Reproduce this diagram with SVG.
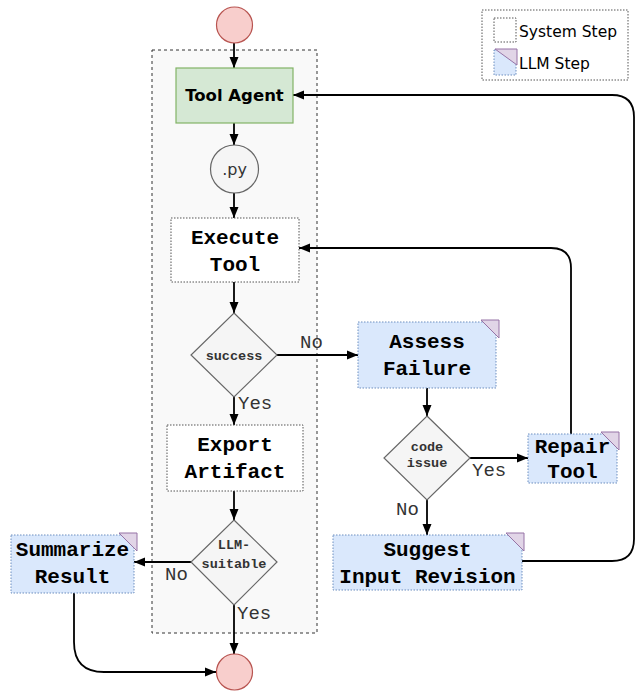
<svg xmlns="http://www.w3.org/2000/svg" width="635" height="692" viewBox="0 0 635 692">
<defs>
<marker id="ah" markerUnits="userSpaceOnUse" markerWidth="12" markerHeight="12" viewBox="0 0 12 12" refX="11" refY="6" orient="auto">
<path d="M0,1.5 L11,6 L0,10.5 Z" fill="#000"/>
</marker>
<style>
.sys{fill:#fff;stroke:#555;stroke-width:1;stroke-dasharray:1.5 1.5}
.llm{fill:#dae8fc;stroke:#6c8ebf;stroke-width:1;stroke-dasharray:1.5 1.5}
.tri{fill:#e1d5e7;stroke:#9673a6;stroke-width:1}
.dia{fill:#f5f5f5;stroke:#666;stroke-width:1.2}
.term{fill:#f8cecc;stroke:#b85450;stroke-width:1.2}
.big{font-family:"Liberation Mono",monospace;font-weight:bold;font-size:21px;fill:#000;text-anchor:middle}
.small{font-family:"Liberation Mono",monospace;font-weight:bold;font-size:13.5px;fill:#333;text-anchor:middle}
.lbl{font-family:"Liberation Mono",monospace;font-size:19px;fill:#333}
.edge{fill:none;stroke:#000;stroke-width:1.8;marker-end:url(#ah)}
.leg{font-family:"DejaVu Sans",sans-serif;font-size:15.5px;fill:#000}
</style>
</defs>
<rect width="635" height="692" fill="#fff"/>
<g id="container">
<rect x="152" y="50" width="165" height="583" fill="#f9f9f9" stroke="#333" stroke-width="1" stroke-dasharray="3 3"/>
</g>
<g id="legend">
<rect x="482" y="10" width="146" height="70" fill="#fff" stroke="#555" stroke-width="1" stroke-dasharray="1.5 1.5"/>
<rect x="494" y="18" width="22" height="24" class="sys"/>
<text x="519" y="37" class="leg">System Step</text>
<rect x="494" y="50" width="22" height="25" class="llm"/>
<path d="M495,49 L517,49 L517,65 Z" class="tri"/>
<text x="519" y="69" class="leg">LLM Step</text>
</g>
<g id="connectors">
<path class="edge" d="M234,43 L234,68"/>
<path class="edge" d="M234,123 L234,145"/>
<path class="edge" d="M234,193 L234,218"/>
<path class="edge" d="M234,282 L234,313"/>
<path class="edge" d="M277,355 L358,355"/>
<path class="edge" d="M234,397 L234,425"/>
<path class="edge" d="M234,491 L234,520"/>
<path class="edge" d="M191,562 L134,562"/>
<path class="edge" d="M234,605 L234,654"/>
<path class="edge" d="M74,593 L74,642 Q74,672 104,672 L216,672"/>
<path class="edge" d="M427,388 L427,416"/>
<path class="edge" d="M470,458 L528,458"/>
<path class="edge" d="M427,500 L427,535"/>
<path class="edge" d="M571,434 L571,268 Q571,248 551,248 L299,248"/>
<path class="edge" d="M522,561 L612,561 Q634,561 634,539 L634,117 Q634,95 612,95 L293,95"/>
<text x="300" y="348" class="lbl">No</text>
<text x="238" y="409" class="lbl">Yes</text>
<text x="472" y="476" class="lbl">Yes</text>
<text x="396" y="515" class="lbl">No</text>
<text x="165" y="580" class="lbl">No</text>
<text x="237" y="619" class="lbl">Yes</text>
</g>
<g id="start"><circle cx="234.5" cy="25" r="18" class="term"/></g>
<g id="tool-agent">
<rect x="176" y="68" width="117" height="55" fill="#d5e8d4" stroke="#82b366" stroke-width="1.2"/>
<text x="234.5" y="101" font-family="DejaVu Sans,sans-serif" font-weight="bold" font-size="16.5" text-anchor="middle">Tool Agent</text>
</g>
<g id="py">
<circle cx="234.5" cy="169" r="24" fill="#f5f5f5" stroke="#666" stroke-width="1.2"/>
<text x="234.5" y="175" font-family="DejaVu Sans,sans-serif" font-size="16" fill="#333" text-anchor="middle">.py</text>
</g>
<g id="execute-tool">
<rect x="171" y="218" width="128" height="64" class="sys"/>
<text x="235" y="244" class="big">Execute</text>
<text x="235" y="271" class="big">Tool</text>
</g>
<g id="success">
<path d="M234,313 L277,355 L234,397 L191,355 Z" class="dia"/>
<text x="234" y="360" class="small">success</text>
</g>
<g id="assess-failure">
<rect x="358" y="322" width="138" height="66" class="llm"/>
<path d="M481,320 L499,320 L499,338 Z" class="tri"/>
<text x="427" y="348" class="big">Assess</text>
<text x="427" y="375" class="big">Failure</text>
</g>
<g id="export-artifact">
<rect x="167" y="425" width="136" height="66" class="sys"/>
<text x="235" y="451" class="big">Export</text>
<text x="235" y="478" class="big">Artifact</text>
</g>
<g id="llm-suitable">
<path d="M234,520 L277,562 L234,605 L191,562 Z" class="dia"/>
<text x="234" y="549" class="small">LLM-</text>
<text x="234" y="568" class="small">suitable</text>
</g>
<g id="summarize-result">
<rect x="11" y="535" width="123" height="58" class="llm"/>
<path d="M119,533 L137,533 L137,551 Z" class="tri"/>
<text x="72.5" y="556" class="big">Summarize</text>
<text x="72.5" y="583" class="big">Result</text>
</g>
<g id="code-issue">
<path d="M427,416 L470,458 L427,500 L384,458 Z" class="dia"/>
<text x="427" y="451" class="small">code</text>
<text x="427" y="467" class="small">issue</text>
</g>
<g id="repair-tool">
<rect x="528" y="434" width="89" height="49" class="llm"/>
<path d="M601,432 L619,432 L619,450 Z" class="tri"/>
<text x="572.5" y="453" class="big">Repair</text>
<text x="572.5" y="478" class="big">Tool</text>
</g>
<g id="suggest-input-revision">
<rect x="333" y="535" width="189" height="55" class="llm"/>
<path d="M506,533 L524,533 L524,551 Z" class="tri"/>
<text x="427.5" y="556" class="big">Suggest</text>
<text x="427.5" y="583" class="big">Input Revision</text>
</g>
<g id="end"><circle cx="234.5" cy="672" r="18" class="term"/></g>
</svg>
